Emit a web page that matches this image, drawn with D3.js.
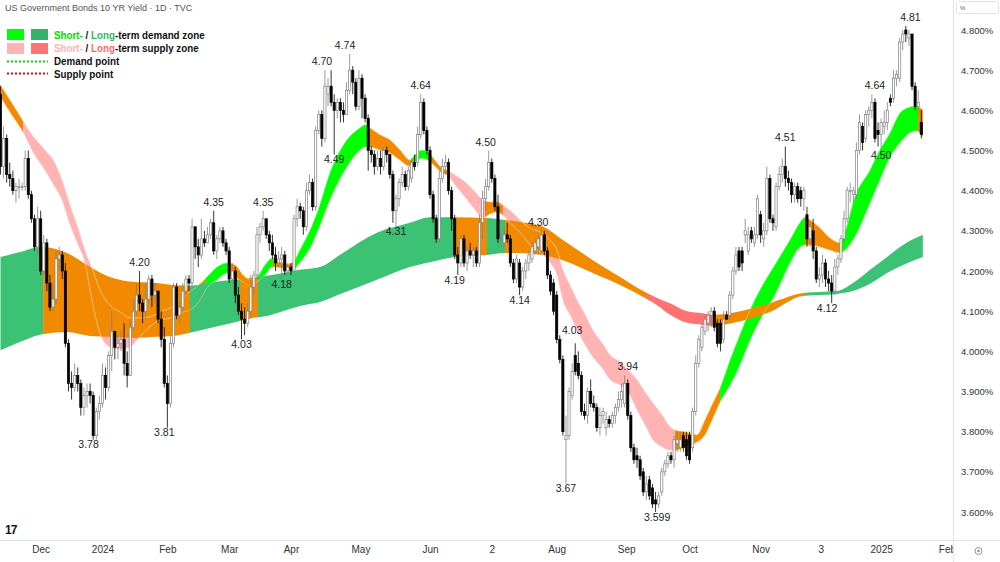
<!DOCTYPE html>
<html>
<head>
<meta charset="utf-8">
<script src="https://cdn.jsdelivr.net/npm/d3@7"></script>
<style>
  body { margin: 0; background: #fff; }
  svg { display: block; font-family: "Liberation Sans", Arial, sans-serif; }
</style>
</head>
<body>
<script>
var width = 1000,
    height = 562;

// daily candles [open, high, low, close], Nov 2023 - Jan 2025
var ohlc = [
  [4.64,4.66,4.44,4.46],[4.46,4.56,4.43,4.53],[4.53,4.54,4.42,4.44],[4.44,4.47,4.41,4.43],[4.43,4.45,4.39,4.40],
  [4.40,4.42,4.37,4.41],[4.41,4.43,4.38,4.41],[4.41,4.42,4.40,4.41],[4.41,4.50,4.40,4.48],[4.48,4.50,4.38,4.39],
  [4.39,4.40,4.32,4.33],[4.33,4.34,4.25,4.26],[4.26,4.36,4.24,4.33],[4.33,4.35,4.19,4.20],[4.20,4.29,4.19,4.27],
  [4.27,4.28,4.15,4.17],[4.17,4.19,4.10,4.11],[4.11,4.17,4.10,4.13],[4.13,4.25,4.12,4.23],[4.23,4.26,4.20,4.24],
  [4.24,4.25,4.18,4.20],[4.20,4.22,4.01,4.02],[4.02,4.03,3.90,3.92],[3.92,3.95,3.88,3.91],[3.91,3.97,3.90,3.94],
  [3.94,3.96,3.90,3.92],[3.92,3.93,3.84,3.86],[3.86,3.91,3.84,3.89],[3.89,3.92,3.86,3.90],[3.90,3.92,3.87,3.89],
  [3.89,3.90,3.78,3.79],[3.79,3.86,3.78,3.85],[3.85,3.89,3.83,3.87],[3.87,3.97,3.86,3.94],[3.94,3.96,3.88,3.91],
  [3.91,4.00,3.90,3.99],[3.99,4.10,3.95,4.05],[4.05,4.05,3.98,4.01],[4.01,4.04,3.98,4.02],[4.02,4.05,4.00,4.03],
  [4.03,4.07,3.94,3.97],[3.97,4.00,3.91,3.94],[3.94,4.08,3.94,4.06],[4.06,4.13,4.05,4.10],[4.10,4.17,4.09,4.14],
  [4.14,4.20,4.10,4.12],[4.12,4.13,4.07,4.10],[4.10,4.17,4.08,4.13],[4.13,4.19,4.12,4.18],[4.18,4.19,4.11,4.14],
  [4.14,4.17,4.12,4.15],[4.15,4.15,4.07,4.08],[4.08,4.10,4.01,4.03],[4.03,4.06,3.91,3.92],[3.92,3.94,3.81,3.87],
  [3.87,4.04,3.86,4.02],[4.02,4.17,4.01,4.16],[4.16,4.17,4.08,4.09],[4.09,4.13,4.07,4.11],[4.11,4.17,4.10,4.15],
  [4.15,4.19,4.14,4.18],[4.18,4.19,4.15,4.17],[4.17,4.33,4.16,4.31],[4.31,4.31,4.23,4.26],[4.26,4.28,4.21,4.24],
  [4.24,4.33,4.23,4.28],[4.28,4.30,4.26,4.27],[4.27,4.31,4.27,4.29],[4.29,4.33,4.28,4.32],[4.32,4.35,4.24,4.25],
  [4.25,4.29,4.23,4.28],[4.28,4.31,4.27,4.30],[4.30,4.31,4.26,4.27],[4.27,4.28,4.24,4.25],[4.25,4.26,4.17,4.18],
  [4.18,4.22,4.17,4.20],[4.20,4.21,4.12,4.14],[4.14,4.16,4.09,4.10],[4.10,4.12,4.03,4.08],[4.08,4.11,4.04,4.07],
  [4.07,4.12,4.06,4.10],[4.10,4.19,4.09,4.16],[4.16,4.20,4.14,4.19],[4.19,4.31,4.18,4.29],[4.29,4.32,4.27,4.31],
  [4.31,4.35,4.30,4.33],[4.33,4.33,4.28,4.29],[4.29,4.30,4.25,4.27],[4.27,4.29,4.23,4.24],[4.24,4.26,4.20,4.22],
  [4.22,4.25,4.21,4.23],[4.23,4.26,4.18,4.24],[4.24,4.25,4.19,4.20],[4.20,4.22,4.19,4.21],[4.21,4.22,4.19,4.20],
  [4.20,4.34,4.20,4.33],[4.33,4.38,4.31,4.36],[4.36,4.37,4.33,4.35],[4.35,4.36,4.29,4.31],[4.31,4.42,4.30,4.40],
  [4.40,4.44,4.39,4.42],[4.42,4.43,4.35,4.36],[4.36,4.56,4.35,4.55],[4.55,4.60,4.54,4.59],[4.59,4.60,4.51,4.53],
  [4.53,4.70,4.52,4.66],[4.64,4.68,4.61,4.66],[4.66,4.70,4.61,4.62],[4.62,4.64,4.49,4.60],[4.60,4.63,4.58,4.62],
  [4.62,4.63,4.57,4.60],[4.60,4.62,4.57,4.59],[4.59,4.67,4.59,4.65],[4.65,4.74,4.64,4.70],[4.70,4.71,4.64,4.67],
  [4.67,4.68,4.60,4.61],[4.61,4.70,4.60,4.68],[4.68,4.69,4.58,4.63],[4.63,4.64,4.57,4.58],[4.58,4.59,4.45,4.50],
  [4.50,4.51,4.47,4.49],[4.49,4.50,4.44,4.46],[4.46,4.50,4.45,4.48],[4.48,4.50,4.44,4.46],[4.46,4.51,4.45,4.50],
  [4.50,4.51,4.47,4.49],[4.49,4.49,4.43,4.44],[4.44,4.45,4.32,4.35],[4.35,4.39,4.31,4.38],[4.38,4.43,4.36,4.42],
  [4.42,4.46,4.41,4.44],[4.44,4.45,4.40,4.41],[4.41,4.46,4.40,4.45],[4.43,4.48,4.42,4.47],[4.47,4.49,4.45,4.46],
  [4.47,4.56,4.46,4.54],[4.54,4.64,4.53,4.62],[4.62,4.63,4.54,4.55],[4.55,4.56,4.49,4.50],[4.50,4.51,4.38,4.39],
  [4.39,4.40,4.32,4.33],[4.33,4.34,4.27,4.28],[4.28,4.45,4.27,4.43],[4.43,4.48,4.42,4.46],[4.46,4.49,4.44,4.47],
  [4.47,4.48,4.39,4.40],[4.40,4.41,4.30,4.33],[4.33,4.34,4.23,4.24],[4.24,4.26,4.19,4.22],[4.22,4.29,4.21,4.28],
  [4.28,4.29,4.21,4.22],[4.22,4.26,4.20,4.25],[4.25,4.27,4.23,4.24],[4.24,4.26,4.21,4.25],[4.25,4.26,4.21,4.22],
  [4.22,4.34,4.21,4.32],[4.32,4.40,4.28,4.38],[4.38,4.43,4.35,4.41],[4.41,4.50,4.40,4.47],[4.47,4.48,4.42,4.43],
  [4.43,4.44,4.35,4.36],[4.36,4.39,4.27,4.28],[4.28,4.30,4.26,4.28],[4.27,4.31,4.26,4.29],[4.29,4.32,4.27,4.28],
  [4.28,4.29,4.21,4.22],[4.22,4.23,4.17,4.18],[4.18,4.24,4.17,4.23],[4.22,4.23,4.14,4.16],[4.16,4.21,4.15,4.20],
  [4.20,4.23,4.18,4.22],[4.22,4.25,4.20,4.24],[4.23,4.27,4.22,4.26],[4.25,4.28,4.24,4.27],[4.26,4.29,4.24,4.28],
  [4.25,4.30,4.24,4.29],[4.29,4.30,4.24,4.25],[4.25,4.26,4.18,4.19],[4.19,4.20,4.14,4.15],[4.17,4.18,4.09,4.10],
  [4.14,4.15,4.02,4.03],[4.03,4.04,3.97,3.98],[3.98,3.99,3.79,3.80],[3.78,3.84,3.67,3.79],[3.79,3.91,3.78,3.90],
  [3.89,3.97,3.88,3.95],[3.99,4.02,3.94,3.95],[3.97,4.00,3.93,3.94],[3.94,3.95,3.84,3.85],[3.85,3.87,3.83,3.84],
  [3.84,3.91,3.82,3.90],[3.90,3.93,3.86,3.87],[3.87,3.89,3.85,3.86],[3.86,3.87,3.80,3.81],[3.81,3.86,3.79,3.84],
  [3.84,3.86,3.82,3.85],[3.81,3.85,3.79,3.83],[3.83,3.84,3.81,3.82],[3.82,3.85,3.81,3.84],[3.84,3.87,3.82,3.86],
  [3.86,3.90,3.85,3.88],[3.88,3.92,3.86,3.90],[3.87,3.94,3.86,3.92],[3.92,3.93,3.83,3.84],[3.84,3.85,3.75,3.76],
  [3.76,3.77,3.72,3.73],[3.74,3.76,3.71,3.73],[3.73,3.74,3.68,3.69],[3.70,3.71,3.64,3.65],[3.65,3.69,3.63,3.67],
  [3.68,3.69,3.63,3.64],[3.66,3.67,3.61,3.62],[3.63,3.65,3.60,3.62],[3.62,3.65,3.61,3.64],[3.65,3.71,3.64,3.70],
  [3.70,3.73,3.69,3.72],[3.72,3.75,3.71,3.74],[3.74,3.75,3.72,3.73],[3.73,3.79,3.71,3.78],[3.77,3.80,3.75,3.78],
  [3.76,3.80,3.75,3.78],[3.79,3.80,3.75,3.76],[3.78,3.80,3.73,3.74],[3.79,3.80,3.72,3.73],[3.76,3.86,3.75,3.85],
  [3.85,3.99,3.84,3.97],[3.97,4.04,3.96,4.03],[4.01,4.07,4.00,4.06],[4.05,4.09,4.04,4.08],[4.07,4.10,4.05,4.09],
  [4.09,4.11,4.06,4.10],[4.10,4.11,4.05,4.06],[4.07,4.08,4.01,4.02],[4.07,4.08,4.00,4.02],[4.03,4.10,4.02,4.08],
  [4.09,4.10,4.08,4.08],[4.09,4.15,4.08,4.14],[4.14,4.21,4.13,4.20],[4.20,4.26,4.19,4.24],[4.25,4.26,4.20,4.21],
  [4.25,4.26,4.20,4.22],[4.29,4.33,4.27,4.30],[4.25,4.31,4.24,4.29],[4.30,4.31,4.27,4.28],[4.27,4.31,4.26,4.29],
  [4.29,4.39,4.28,4.38],[4.34,4.35,4.27,4.29],[4.28,4.32,4.26,4.30],[4.30,4.46,4.29,4.43],[4.43,4.44,4.32,4.33],
  [4.33,4.34,4.30,4.32],[4.31,4.42,4.30,4.41],[4.41,4.46,4.40,4.44],[4.44,4.48,4.42,4.46],[4.46,4.51,4.41,4.43],
  [4.43,4.45,4.40,4.42],[4.42,4.43,4.37,4.39],[4.39,4.42,4.37,4.41],[4.41,4.42,4.37,4.38],[4.40,4.41,4.36,4.38],
  [4.38,4.41,4.35,4.40],[4.34,4.36,4.26,4.28],[4.28,4.32,4.26,4.31],[4.30,4.33,4.23,4.25],[4.25,4.26,4.17,4.18],
  [4.18,4.21,4.16,4.19],[4.19,4.24,4.17,4.22],[4.22,4.23,4.16,4.18],[4.18,4.20,4.15,4.17],[4.17,4.19,4.12,4.15],
  [4.15,4.23,4.14,4.21],[4.21,4.24,4.19,4.23],[4.23,4.29,4.22,4.28],[4.28,4.35,4.27,4.33],[4.33,4.41,4.32,4.40],
  [4.40,4.42,4.37,4.40],[4.39,4.41,4.37,4.40],[4.39,4.52,4.38,4.50],[4.50,4.59,4.49,4.57],[4.56,4.57,4.50,4.52],
  [4.53,4.60,4.52,4.59],[4.59,4.61,4.56,4.60],[4.60,4.64,4.58,4.62],[4.62,4.63,4.52,4.53],[4.55,4.57,4.51,4.54],
  [4.54,4.58,4.50,4.57],[4.56,4.60,4.54,4.57],[4.57,4.62,4.55,4.60],[4.63,4.64,4.61,4.62],[4.63,4.70,4.62,4.68],
  [4.68,4.70,4.66,4.69],[4.68,4.78,4.67,4.77],[4.77,4.80,4.75,4.79],[4.80,4.81,4.77,4.79],[4.78,4.80,4.76,4.79],
  [4.79,4.79,4.65,4.66],[4.66,4.67,4.60,4.61],[4.61,4.65,4.59,4.62],[4.57,4.60,4.53,4.54]
];

// short-term zone (two fast averages), sampled by bar index
var shortIdx = [0,3.7,7.3,10.5,14.4,17.6,19.9,22.5,25.1,27.3,29.6,32.2,35.4,38.7,41.9,45.1,48.4,51.6,54.9,58.1,
  61.3,64.6,66.8,70.1,73.3,75.9,78.5,80.7,83,85.6,87.9,90.5,93,94.7,96.9,100.2,102.8,106.6,112.1,116.3,
  118,119.6,122.8,126.1,129.3,132.5,134.1,136.4,138.3,140.6,142.9,144.5,147.1,150.3,153.6,156.1,158.4,160.7,162.6,165.5,
  168.1,171.4,174.6,177.8,180.1,182,184.3,186.6,189.2,191.7,194.7,197.3,200.5,203.1,206,208.6,211.2,214.1,216.7,218.3,
  221.5,225.4,228,230.3,232.9,236.1,239.3,242.6,245.8,250.6,255.5,258.7,260.4,262,265.2,268.4,271.7,273.3,276.5,281.4,
  284.6,287.9,291.1,294.3,296.3,298.5];
var shortTop = [4.663,4.618,4.573,4.536,4.501,4.469,4.427,4.364,4.307,4.252,4.208,4.153,4.115,4.098,4.083,4.083,4.086,4.098,4.108,4.128,
  4.148,4.168,4.185,4.210,4.220,4.215,4.190,4.178,4.185,4.215,4.232,4.222,4.217,4.222,4.252,4.302,4.352,4.444,4.526,4.556,
  4.564,4.556,4.539,4.526,4.501,4.476,4.489,4.501,4.496,4.476,4.456,4.451,4.439,4.422,4.397,4.377,4.372,4.372,4.364,4.347,
  4.327,4.307,4.297,4.277,4.252,4.203,4.165,4.128,4.091,4.053,4.021,3.991,3.974,3.954,3.929,3.899,3.871,3.842,3.812,3.804,
  3.799,3.792,3.829,3.867,3.909,3.978,4.041,4.103,4.153,4.215,4.277,4.320,4.334,4.327,4.307,4.282,4.270,4.297,4.384,4.451,
  4.501,4.544,4.593,4.608,4.611,4.601];
var shortBot = [4.633,4.588,4.546,4.496,4.451,4.409,4.377,4.315,4.265,4.222,4.128,4.045,4.011,4.006,4.011,4.036,4.062,4.078,4.083,4.096,
  4.103,4.128,4.158,4.178,4.195,4.185,4.173,4.163,4.173,4.190,4.210,4.208,4.203,4.203,4.222,4.257,4.302,4.377,4.459,4.501,
  4.509,4.509,4.501,4.494,4.476,4.461,4.471,4.481,4.476,4.461,4.444,4.439,4.414,4.384,4.352,4.332,4.342,4.347,4.339,4.315,
  4.297,4.265,4.247,4.222,4.190,4.128,4.091,4.053,4.016,3.986,3.959,3.929,3.916,3.899,3.854,3.817,3.779,3.762,3.754,3.754,
  3.762,3.774,3.792,3.829,3.874,3.916,3.966,4.028,4.078,4.140,4.220,4.260,4.265,4.265,4.260,4.252,4.245,4.252,4.285,4.369,
  4.427,4.484,4.519,4.544,4.549,4.534];

// long-term zone (two slow averages)
var longIdx = [0,6.3,12.8,21.5,29,35.4,42.9,50.6,55.8,61.3,66.8,75.2,81.7,86.2,91.4,96.9,103.4,110.8,121.8,132.5,
  139,147.1,157.4,163.3,168.1,175.6,182,191.7,200.5,208,212.5,216.7,222.2,227.3,230.6,238.3,249,259.7,265.2,270.7,
  275.9,281.4,286.9,292.1,298.5];
var longTop = [4.235,4.247,4.260,4.245,4.210,4.185,4.173,4.170,4.165,4.163,4.170,4.178,4.183,4.188,4.195,4.203,4.210,4.245,4.295,4.320,
  4.334,4.334,4.332,4.327,4.322,4.310,4.277,4.227,4.185,4.150,4.133,4.120,4.100,4.095,4.091,4.098,4.120,4.145,4.148,4.150,
  4.170,4.203,4.235,4.265,4.290];
var longBot = [4.003,4.023,4.041,4.048,4.038,4.036,4.033,4.036,4.038,4.046,4.056,4.071,4.083,4.088,4.100,4.113,4.123,4.145,4.178,4.210,
  4.222,4.235,4.240,4.245,4.245,4.240,4.227,4.195,4.165,4.135,4.115,4.091,4.071,4.066,4.063,4.073,4.098,4.138,4.140,4.143,
  4.150,4.168,4.195,4.215,4.235];

// zone states: g/G demand, p/P supply, o neutral
var shortZones = [[-2,7.3,"o"],[7.3,54.9,"p"],[54.9,66.2,"o"],[66.2,73.6,"g"],[73.6,83,"o"],[83,88.2,"g"],[88.2,94.7,"o"],
  [94.7,119,"g"],[119,133.5,"o"],[133.5,138.4,"g"],[138.4,144.5,"o"],[144.5,156.8,"p"],[156.8,162.6,"o"],[162.6,218.3,"p"],
  [218.3,232.9,"o"],[232.9,260.4,"g"],[260.4,272.3,"o"],[272.3,296.9,"g"],[296.9,299,"o"]];
var longZones = [[-2,13.8,"G"],[13.8,61.3,"o"],[61.3,77.5,"G"],[77.5,83.3,"o"],[83.3,147.1,"G"],[147.1,157.4,"o"],
  [157.4,163.3,"G"],[163.3,209.2,"o"],[209.2,231.2,"P"],[231.2,260.4,"o"],[260.4,299,"G"]];

var tickIdx = [13,33,54,74,94,116.5,139,159,180,202.5,223,246,265.5,285,306.3];
var tickText = ["Dec","2024","Feb","Mar","Apr","May","Jun","2","Aug","Sep","Oct","Nov","3","2025","Feb"];
var priceTicks = [3.6,3.7,3.8,3.9,4.0,4.1,4.2,4.3,4.4,4.5,4.6,4.7,4.8];

// swing labels [bar, text, a=above / b=below]
var pivots = [[28.5,"3.78","b"],[45,"4.20","a"],[53,"3.81","b"],[69,"4.35","a"],[78,"4.03","b"],[85,"4.35","a"],
  [91,"4.18","b"],[104,"4.70","a"],[108,"4.49","b"],[111.5,"4.74","a"],[128,"4.31","b"],[136,"4.64","a"],
  [147,"4.19","b"],[157,"4.50","a"],[168,"4.14","b"],[174,"4.30","a"],[185,"4.03","a"],[183,"3.67","b"],
  [203,"3.94","a"],[212.5,"3.599","b"],[254,"4.51","a"],[267.5,"4.12","b"],[283,"4.64","a"],[285,"4.50","b"],
  [294.5,"4.81","a"]];

var zoneColor = { g: "#00ff00", G: "#3cc274", p: "#ffb3b3", P: "#ff7373", o: "#f28a00" };
var edgeColor = { g: "#7dff7d", p: "#ffd6d6", o: "#ffc070" };

var plotW = 953, plotH = 540;

var x = d3.scaleLinear().domain([0, 298]).range([0.5, 921.3]);
var y = d3.scaleLinear().domain([3.6, 4.8]).range([512, 30]);

var svg = d3.select("body").append("svg")
    .attr("width", width)
    .attr("height", height);

var defs = svg.append("defs");
defs.append("clipPath").attr("id", "plot")
  .append("rect").attr("width", plotW).attr("height", plotH);

var plot = svg.append("g").attr("clip-path", "url(#plot)");

function zonePoints(idx, top, bot) {
  return idx.map(function(d, i) { return { i: d, t: top[i], b: bot[i] }; });
}

function clipFor(name, z) {
  defs.append("clipPath").attr("id", name)
    .append("rect")
      .attr("x", x(z[0]))
      .attr("width", x(z[1]) - x(z[0]) + 0.2)
      .attr("y", 0)
      .attr("height", plotH);
  return "url(#" + name + ")";
}

var area = d3.area()
    .x(function(d) { return x(d.i); })
    .y0(function(d) { return y(d.b); })
    .y1(function(d) { return y(d.t); })
    .curve(d3.curveMonotoneX);

var shortPts = zonePoints(shortIdx, shortTop, shortBot),
    longPts = zonePoints(longIdx, longTop, longBot);

// short zone underneath
shortZones.forEach(function(z, k) {
  plot.append("path").datum(shortPts)
      .attr("d", area)
      .attr("fill", zoneColor[z[2]])
      .attr("clip-path", clipFor("s" + k, z));
});

// long zone on top
longZones.forEach(function(z, k) {
  plot.append("path").datum(longPts)
      .attr("d", area)
      .attr("fill", zoneColor[z[2]])
      .attr("clip-path", clipFor("l" + k, z));
});

// thin edges of the short zone stay visible over the long one
var edgeTop = d3.line().x(function(d) { return x(d.i); }).y(function(d) { return y(d.t); }).curve(d3.curveMonotoneX),
    edgeBot = d3.line().x(function(d) { return x(d.i); }).y(function(d) { return y(d.b); }).curve(d3.curveMonotoneX);

shortZones.forEach(function(z, k) {
  [edgeTop, edgeBot].forEach(function(fn) {
    plot.append("path").datum(shortPts)
        .attr("d", fn)
        .attr("fill", "none")
        .attr("stroke", edgeColor[z[2]])
        .attr("stroke-width", 0.8)
        .attr("opacity", 0.8)
        .attr("clip-path", "url(#s" + k + ")");
  });
});

// candles
var candle = plot.selectAll(".candle")
    .data(ohlc)
  .enter().append("g")
    .attr("class", "candle");

function up(d) { return d[3] >= d[0]; }

candle.append("line")
    .attr("x1", function(d, i) { return x(i); })
    .attr("x2", function(d, i) { return x(i); })
    .attr("y1", function(d) { return y(d[1]); })
    .attr("y2", function(d) { return y(d[2]); })
    .attr("stroke", function(d) { return up(d) ? "#808080" : "#000"; })
    .attr("stroke-width", 0.8);

candle.append("rect")
    .attr("x", function(d, i) { return x(i) - 1.1; })
    .attr("width", 2.2)
    .attr("y", function(d) { return y(Math.max(d[0], d[3])); })
    .attr("height", function(d) { return Math.max(0.8, Math.abs(y(d[0]) - y(d[3]))); })
    .attr("fill", function(d) { return up(d) ? "#fff" : "#000"; })
    .attr("stroke", function(d) { return up(d) ? "#808080" : "#000"; })
    .attr("stroke-width", 0.7);

// swing labels
plot.selectAll(".pivot")
    .data(pivots)
  .enter().append("text")
    .attr("class", "pivot")
    .attr("x", function(d) { return x(d[0]); })
    .attr("y", function(d) { return d[2] === "a" ? y(+d[1]) - 5 : y(+d[1]) + 8.5; })
    .attr("text-anchor", "middle")
    .attr("font-size", 10.5)
    .attr("fill", "#1e1e1e")
    .text(function(d) { return d[1]; });

// axes frame
svg.append("line").attr("x1", plotW + 0.5).attr("x2", plotW + 0.5).attr("y1", 0).attr("y2", height)
    .attr("stroke", "#e0e3eb");
svg.append("line").attr("x1", 0).attr("x2", width).attr("y1", plotH + 0.5).attr("y2", plotH + 0.5)
    .attr("stroke", "#e0e3eb");

var yAxis = svg.append("g")
    .attr("transform", "translate(" + plotW + ",0)")
    .call(d3.axisRight(y).tickValues(priceTicks).tickSize(0).tickPadding(8)
      .tickFormat(function(d) { return d.toFixed(3) + "%"; }));
yAxis.select(".domain").remove();
yAxis.selectAll("text").attr("font-size", 9.5).attr("fill", "#333").attr("font-family", "Liberation Sans, Arial");

defs.append("clipPath").attr("id", "xlab")
  .append("rect").attr("x", 0).attr("y", 0).attr("width", plotW).attr("height", 22);

var xAxis = svg.append("g")
    .attr("transform", "translate(0," + plotH + ")")
    .attr("clip-path", "url(#xlab)")
    .call(d3.axisBottom(x).tickValues(tickIdx).tickSize(0).tickPadding(6)
      .tickFormat(function(d, i) { return tickText[i]; }));
xAxis.select(".domain").remove();
xAxis.selectAll("text").attr("font-size", 10).attr("fill", "#333").attr("font-family", "Liberation Sans, Arial");

// unit box and corner widgets
svg.append("rect").attr("x", 956.5).attr("y", 1.5).attr("width", 42).attr("height", 12).attr("rx", 2)
    .attr("fill", "#fff").attr("stroke", "#e0e3eb");
svg.append("text").attr("x", 960).attr("y", 10).attr("font-size", 6).attr("fill", "#555").text("%");

svg.append("circle").attr("cx", 978.5).attr("cy", 551).attr("r", 3.5)
    .attr("fill", "none").attr("stroke", "#888").attr("stroke-width", 0.9);
svg.append("circle").attr("cx", 978.5).attr("cy", 551).attr("r", 1.2).attr("fill", "#888");

svg.append("text").attr("x", 5).attr("y", 534)
    .attr("font-size", 12).attr("font-weight", "bold").attr("letter-spacing", -1)
    .attr("fill", "#131722").text("17");

// title
svg.append("text").attr("x", 5).attr("y", 11)
    .attr("font-size", 9).attr("fill", "#555")
    .text("US Government Bonds 10 YR Yield · 1D · TVC");

// legend
var legend = svg.append("g").attr("font-size", 11).attr("font-weight", "bold").attr("fill", "#111");

legend.append("rect").attr("x", 7).attr("y", 29).attr("width", 17).attr("height", 11).attr("fill", zoneColor.g);
legend.append("rect").attr("x", 31).attr("y", 29).attr("width", 17).attr("height", 11).attr("fill", "#37b06c");
legend.append("rect").attr("x", 7).attr("y", 43).attr("width", 17).attr("height", 11).attr("fill", zoneColor.p);
legend.append("rect").attr("x", 31).attr("y", 43).attr("width", 17).attr("height", 11).attr("fill", zoneColor.P);
legend.append("line").attr("x1", 7).attr("x2", 48).attr("y1", 61.5).attr("y2", 61.5)
    .attr("stroke", "#00e000").attr("stroke-width", 2).attr("stroke-dasharray", "2,2");
legend.append("line").attr("x1", 7).attr("x2", 48).attr("y1", 73.5).attr("y2", 73.5)
    .attr("stroke", "#ff0000").attr("stroke-width", 2).attr("stroke-dasharray", "2,2");

var rows = [
  { y: 39, parts: [["Short-", "#00dd00"], [" / ", "#111"], ["Long", "#33b565"], ["-term demand zone", "#111"]] },
  { y: 52, parts: [["Short-", "#ffb3b3"], [" / ", "#111"], ["Long", "#ff6b6b"], ["-term supply zone", "#111"]] },
  { y: 65, parts: [["Demand point", "#111"]] },
  { y: 78, parts: [["Supply point", "#111"]] }
];

// narrow the bold face horizontally, like the original legend font
rows.forEach(function(r) {
  var t = legend.append("text")
      .attr("transform", "translate(54," + r.y + ") scale(0.89,1)");
  r.parts.forEach(function(p) {
    t.append("tspan").attr("fill", p[1]).text(p[0]);
  });
});
</script>
</body>
</html>
